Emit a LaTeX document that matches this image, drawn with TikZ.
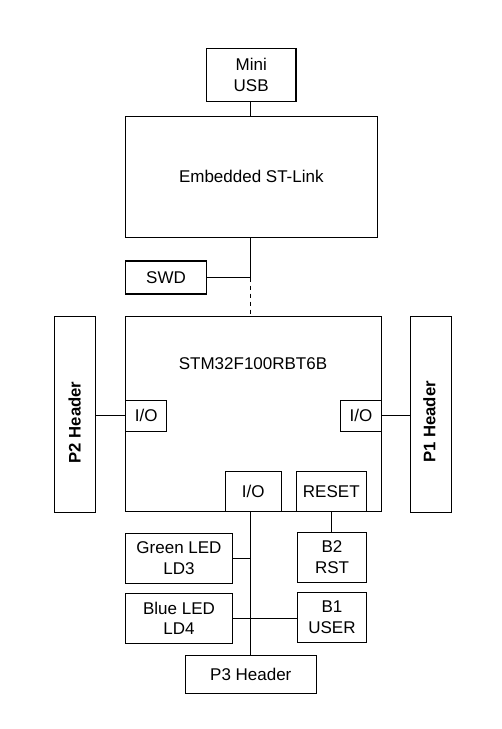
\documentclass[tikz,border=0pt]{standalone}
\usepackage{fontspec}
\setmainfont{Liberation Sans}
\begin{document}
\begin{tikzpicture}[x=1pt,y=-1pt,
  box/.style={draw, line width=1.1pt, rectangle, inner sep=0pt, align=center,
    font=\fontsize{17}{20.5}\selectfont},
  lbl/.style={inner sep=0pt, font=\fontsize{17}{20.5}\selectfont},
  hlbl/.style={inner sep=0pt, rotate=90, font=\fontsize{16.7}{20.5}\selectfont\bfseries},
  wire/.style={line width=1.1pt},
  dwire/.style={line width=1.1pt, dash pattern=on 4pt off 4pt}]
\useasboundingbox (0,0) rectangle (502,729);
\node[box, minimum width=89.5pt, minimum height=53pt] (usb) at (251.2,74.8) {Mini\\USB};
\node[box, minimum width=252pt, minimum height=120.7pt] (stlink) at (251.3,176.7) {Embedded ST-Link};
\node[box, minimum width=81.4pt, minimum height=33pt] (swd) at (166,277.5) {SWD};
\node[box, minimum width=256pt, minimum height=194.7pt] (stm) at (253.7,413.7) {};
\node[lbl] (stmtxt) at (253,364) {STM32F100RBT6B};
\node[box, minimum width=41pt, minimum height=195.6pt] (p2) at (74.8,414.5) {};
\node[hlbl] (p2txt) at (74.7,422.5) {P2 Header};
\node[box, minimum width=41pt, minimum height=195.6pt] (p1) at (430.8,414.5) {};
\node[hlbl] (p1txt) at (429.5,422) {P1 Header};
\node[box, minimum width=41pt, minimum height=31pt] (iol) at (146.2,415.8) {I/O};
\node[box, minimum width=41.4pt, minimum height=31pt] (ior) at (361,415.8) {I/O};
\node[box, minimum width=56pt, minimum height=39.7pt] (iob) at (253.3,491.2) {I/O};
\node[box, minimum width=70pt, minimum height=39.7pt] (reset) at (331.3,491.2) {RESET};
\node[box, minimum width=107.4pt, minimum height=50pt] (green) at (179,558.3) {Green LED\\LD3};
\node[box, minimum width=69.4pt, minimum height=50pt] (b2) at (332,557.3) {B2\\RST};
\node[box, minimum width=107.4pt, minimum height=50pt] (blue) at (179,618.3) {Blue LED\\LD4};
\node[box, minimum width=69.4pt, minimum height=50pt] (b1) at (332,617.3) {B1\\USER};
\node[box, minimum width=131pt, minimum height=38pt] (p3) at (250.8,674.3) {P3 Header};
\coordinate (bus) at (250.3,600);
\coordinate (j1) at (250.3,277.5);
\draw[wire] (usb.south -| bus) -- (stlink.north -| bus);
\draw[wire] (stlink.south -| bus) -- (j1);
\draw[wire] (swd.east) -- (j1);
\draw[dwire] (j1) -- (stm.north -| j1);
\draw[wire] (p2.east |- iol.west) -- (iol.west);
\draw[wire] (ior.east) -- (ior.east -| p1.west);
\draw[wire] (iob.south -| bus) -- (p3.north -| bus);
\draw[wire] (reset.south) -- (reset.south |- b2.north);
\draw[wire] (green.east) -- (green.east -| bus);
\draw[wire] (blue.east) -- (blue.east -| b1.west);
\end{tikzpicture}
\end{document}
